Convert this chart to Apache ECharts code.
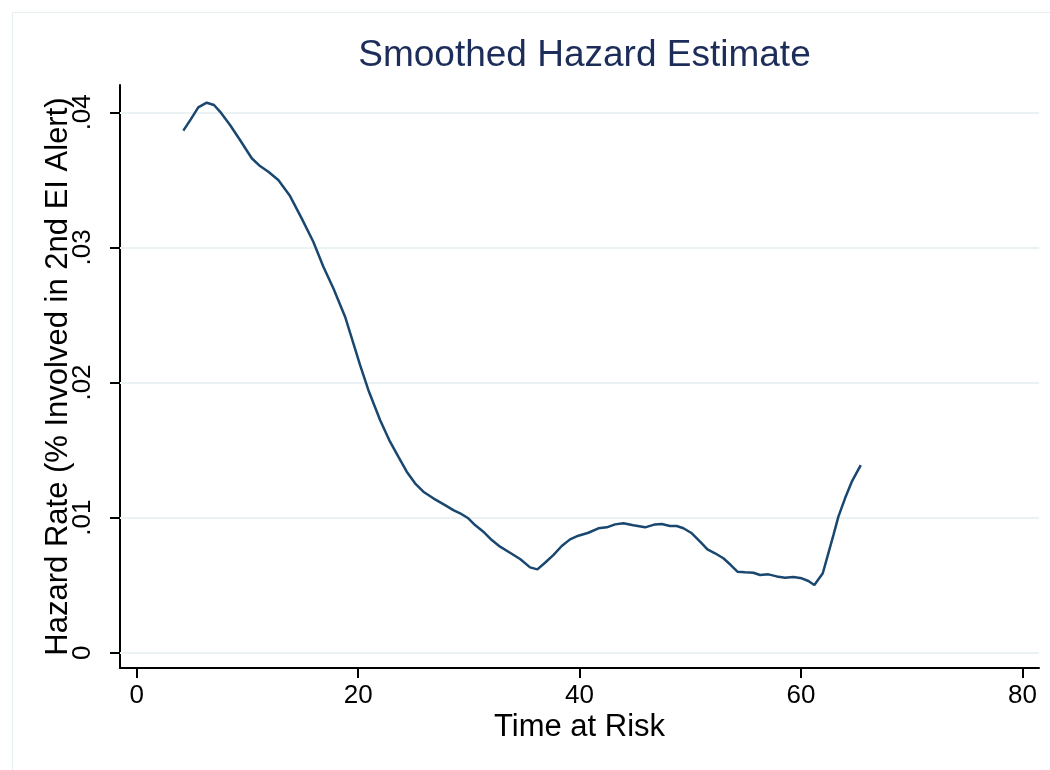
<!DOCTYPE html>
<html>
<head>
<meta charset="utf-8">
<script src="https://cdn.jsdelivr.net/npm/echarts@6/dist/echarts.min.js"></script>
<style>
html,body{margin:0;padding:0;background:#fff;}
#chart{width:1050px;height:770px;}
</style>
</head>
<body>
<div id="chart"></div>
<script>
var titleText = 'Smoothed Hazard Estimate';
var xAxisName = 'Time at Risk';
var yAxisName = 'Hazard Rate (% Involved in 2nd EI Alert)';

var times = [4.21,4.88,5.56,6.32,6.98,7.52,8.43,9.33,10.39,11.14,11.89,12.79,13.85,14.9,15.95,16.86,17.76,18.82,19.57,20.17,20.92,21.98,22.88,23.63,24.39,25.14,25.89,26.79,27.85,28.6,29.21,29.95,30.56,31.31,32.07,32.82,33.72,34.63,35.53,36.19,36.88,37.63,38.39,39.14,39.89,40.8,41.7,42.46,43.21,43.96,44.86,45.92,46.82,47.43,48.17,48.78,49.38,50.14,50.89,51.55,52.24,52.99,53.66,54.26,54.95,55.7,56.31,57.06,57.81,58.56,59.31,60.07,60.67,61.21,61.97,62.47,62.93,63.38,63.98,64.59,65.4];
var hazard = [0.03864,0.03948,0.04037,0.04071,0.04054,0.04005,0.03906,0.03795,0.03660,0.03602,0.03560,0.03499,0.03380,0.03215,0.03042,0.02857,0.02697,0.02487,0.02290,0.02130,0.01945,0.01722,0.01562,0.01451,0.01340,0.01254,0.01192,0.01143,0.01093,0.01056,0.01032,0.00995,0.00945,0.00896,0.00834,0.00785,0.00740,0.00694,0.00632,0.00617,0.00666,0.00723,0.00790,0.00839,0.00866,0.00888,0.00921,0.00928,0.00950,0.00958,0.00943,0.00928,0.00950,0.00953,0.00938,0.00938,0.00921,0.00884,0.00822,0.00765,0.00736,0.00699,0.00649,0.00600,0.00595,0.00592,0.00575,0.00580,0.00565,0.00555,0.00560,0.00551,0.00531,0.00501,0.00588,0.00736,0.00871,0.01007,0.01143,0.01266,0.01389];

var xTicks = [0, 20, 40, 60, 80];
var yTicks = [0, 0.01, 0.02, 0.03, 0.04];
var yTickLabels = ['0', '.01', '.02', '.03', '.04'];

var FONT = "'Liberation Sans', Arial, sans-serif";
var chart = echarts.init(document.getElementById('chart'), null, {renderer: 'canvas'});

var pts = times.map(function (t, i) { return [t, hazard[i]]; });

chart.setOption({
  backgroundColor: '#ffffff',
  animation: false,
  graphic: [{
    type: 'rect',
    shape: {x: 12.5, y: 12.5, width: 1060, height: 780},
    style: {fill: 'none', stroke: '#e6eef0', lineWidth: 1},
    silent: true
  }],
  title: {
    text: titleText,
    left: 579.5,
    textAlign: 'center',
    top: 32,
    textStyle: {fontFamily: FONT, fontSize: 37, fontWeight: 'normal', color: '#1c2d5a'}
  },
  grid: {left: 120, right: 11, top: 85, bottom: 102, containLabel: false},
  xAxis: {
    type: 'value',
    min: -1.51,
    max: 81.5,
    name: xAxisName,
    nameLocation: 'middle',
    nameGap: 44,
    nameMoveOverlap: false,
    nameTextStyle: {fontFamily: FONT, fontSize: 31, color: '#000'},
    axisLine: {show: true, onZero: false, lineStyle: {color: '#000', width: 2}},
    axisTick: {show: true, customValues: xTicks, length: 10, lineStyle: {color: '#000', width: 2}},
    axisLabel: {show: true, customValues: xTicks, margin: 15, fontFamily: FONT, fontSize: 26, color: '#000'},
    splitLine: {show: false}
  },
  yAxis: {
    type: 'value',
    min: -0.00113,
    max: 0.04202,
    name: yAxisName,
    nameLocation: 'middle',
    nameGap: 46,
    nameRotate: 90,
    nameMoveOverlap: false,
    nameTextStyle: {fontFamily: FONT, fontSize: 31, color: '#000'},
    axisLine: {show: true, onZero: false, lineStyle: {color: '#000', width: 2}},
    axisTick: {show: true, customValues: yTicks, length: 10, lineStyle: {color: '#000', width: 2}},
    axisLabel: {
      show: true, customValues: yTicks, rotate: 90, margin: 24,
      fontFamily: FONT, fontSize: 26, color: '#000',
      formatter: function (v) {
        for (var i = 0; i < yTicks.length; i++) {
          if (Math.abs(v - yTicks[i]) < 1e-9) return yTickLabels[i];
        }
        return '';
      }
    },
    splitLine: {show: false}
  },
  series: [{
    type: 'line',
    data: pts,
    showSymbol: false,
    symbol: 'none',
    smooth: false,
    clip: false,
    lineStyle: {color: '#1a476f', width: 2.5},
    markLine: {
      silent: true,
      symbol: ['none', 'none'],
      label: {show: false},
      lineStyle: {color: '#eaf2f3', width: 2, type: 'solid'},
      data: yTicks.map(function (v) { return {yAxis: v}; }),
      z: 1
    },
    z: 3
  }]
});
</script>
</body>
</html>
